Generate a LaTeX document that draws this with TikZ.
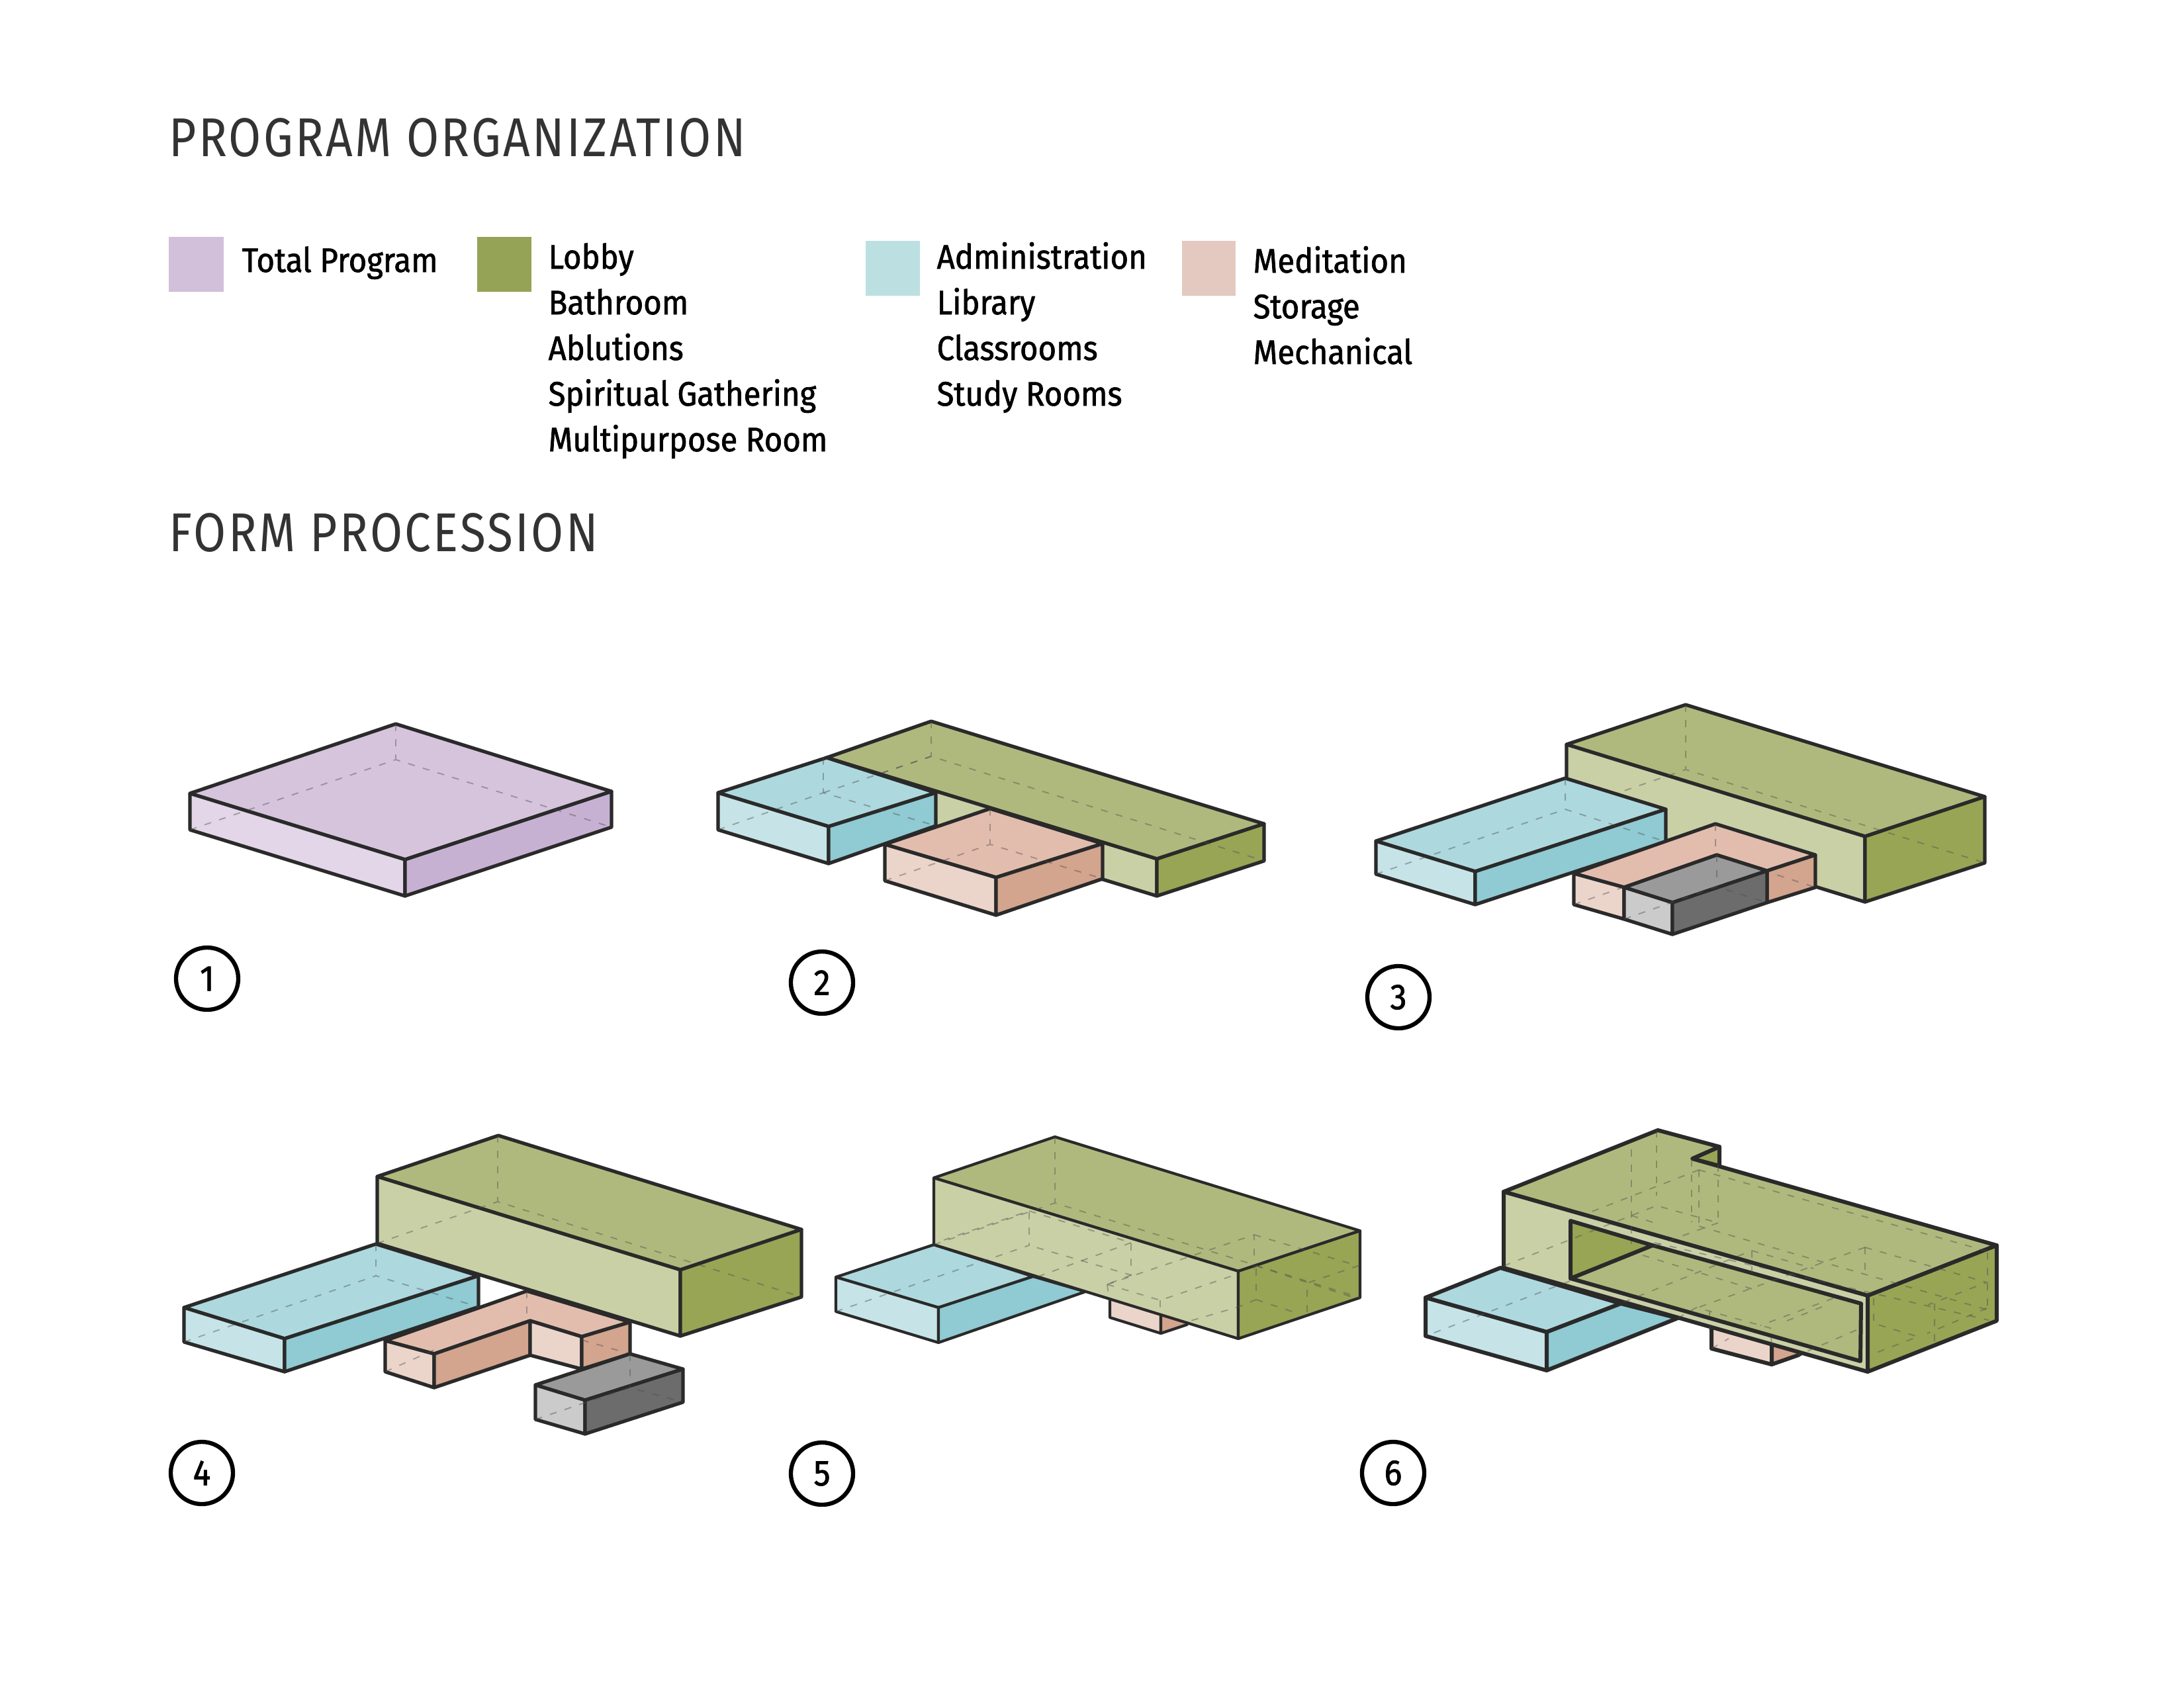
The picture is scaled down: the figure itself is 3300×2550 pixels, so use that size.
\documentclass[tikz,border=0pt]{standalone}
\usepackage{fontspec}
\usepackage{tikz}
\usetikzlibrary{positioning}
\newfontfamily\headfont[FakeStretch=0.86,LetterSpace=4]{Fira Sans}
\newfontfamily\lgdfont[FakeStretch=0.92,FakeBold=1.4]{Fira Sans}
\definecolor{lin}{HTML}{2A2A2A}
\definecolor{headcol}{HTML}{333333}
\definecolor{purT}{HTML}{D6C4DD}
\definecolor{purL}{HTML}{E3D6E8}
\definecolor{purR}{HTML}{C7B1D3}
\definecolor{grnT}{HTML}{B0B97D}
\definecolor{grnL}{HTML}{C9D0A6}
\definecolor{grnR}{HTML}{98A555}
\definecolor{bluT}{HTML}{ADD8DE}
\definecolor{bluL}{HTML}{C6E4E7}
\definecolor{bluR}{HTML}{90CAD2}
\definecolor{pchT}{HTML}{E2BDAD}
\definecolor{pchL}{HTML}{EBD5CB}
\definecolor{pchR}{HTML}{D3A48E}
\definecolor{gryT}{HTML}{9A9A9A}
\definecolor{gryL}{HTML}{CBCBCB}
\definecolor{gryR}{HTML}{6C6C6C}
\definecolor{keypur}{HTML}{D2BFD9}
\definecolor{keygrn}{HTML}{95A356}
\definecolor{keyblu}{HTML}{BCE0E1}
\definecolor{keypch}{HTML}{E3C9C0}
\begin{document}
\begin{tikzpicture}[
    x=0.01cm, y=-0.01cm, line width=1.5pt,
    face/.style={draw=lin, line join=round},
    toppur/.style={face, fill=purT},
    lftpur/.style={face, fill=purL},
    rgtpur/.style={face, fill=purR},
    topgrn/.style={face, fill=grnT},
    lftgrn/.style={face, fill=grnL},
    rgtgrn/.style={face, fill=grnR},
    topblu/.style={face, fill=bluT},
    lftblu/.style={face, fill=bluL},
    rgtblu/.style={face, fill=bluR},
    toppch/.style={face, fill=pchT},
    lftpch/.style={face, fill=pchL},
    rgtpch/.style={face, fill=pchR},
    topgry/.style={face, fill=gryT},
    lftgry/.style={face, fill=gryL},
    rgtgry/.style={face, fill=gryR},
    hid/.style={draw=black!70, opacity=0.42, line width=0.55pt, dash pattern=on 3pt off 3.6pt},
    head/.style={anchor=base west, inner sep=0pt, text=headcol, font=\headfont\fontsize{23.5}{28}\selectfont},
    lgd/.style={anchor=base west, inner sep=0pt, text=black, font=\lgdfont\fontsize{14.6}{17}\selectfont},
    num/.style={circle, draw=black, line width=1.8pt, minimum size=0.94cm, inner sep=0pt, font=\lgdfont\fontsize{15.5}{18}\selectfont}
]
\useasboundingbox (0,0) rectangle (3300,2550);

% titles
\node[head] (title1) at (253,236) {PROGRAM ORGANIZATION};
\node[head] (title2) at (253,833) {FORM PROCESSION};

% legend
\fill[keypur] (255,358) rectangle (338,441);
\fill[keygrn] (721,358) rectangle (803,441);
\fill[keyblu] (1308,364) rectangle (1390,447);
\fill[keypch] (1786,364) rectangle (1867,447);
\node[lgd] (total) at (363,411) {Total Program};
\foreach \txt [count=\i] in {Lobby,Bathroom,Ablutions,Spiritual Gathering,Multipurpose Room}
    \node[lgd] (grn\i) at (826,337+69*\i) {\txt};
\foreach \txt [count=\i] in {Administration,Library,Classrooms,Study Rooms}
    \node[lgd] (blu\i) at (1413,337+69*\i) {\txt};
\foreach \txt [count=\i] in {Meditation,Storage,Mechanical}
    \node[lgd] (pch\i) at (1891,343+69*\i) {\txt};

% 1
\filldraw[toppur] (598,1094) -- (924,1196) -- (612,1299) -- (287,1199) -- cycle;
\filldraw[lftpur] (287,1199) -- (612,1299) -- (612,1354) -- (287,1254) -- cycle;
\filldraw[rgtpur] (612,1299) -- (924,1196) -- (924,1250) -- (612,1354) -- cycle;
\draw[hid] (598,1094) -- (598,1148) (287,1254) -- (598,1148) -- (924,1250);
\node[num] (n1) at (313,1479) {1};

% 2
\filldraw[topgrn] (1249,1145) -- (1407,1090) -- (1910,1245) -- (1748,1298) -- cycle;
\filldraw[lftgrn] (1249,1145) -- (1748,1298) -- (1748,1354) -- (1249,1201) -- cycle;
\filldraw[rgtgrn] (1748,1298) -- (1910,1245) -- (1910,1301) -- (1748,1354) -- cycle;
\draw[hid] (1407,1090) -- (1407,1143) (1244,1198) -- (1407,1143) -- (1910,1301);
\filldraw[topblu] (1085,1198) -- (1249,1145) -- (1414,1198) -- (1252,1249) -- cycle;
\filldraw[lftblu] (1085,1198) -- (1252,1249) -- (1252,1305) -- (1085,1254) -- cycle;
\filldraw[rgtblu] (1252,1249) -- (1414,1198) -- (1414,1248) -- (1252,1305) -- cycle;
\draw[hid] (1244,1145) -- (1244,1198) (1085,1254) -- (1244,1198) -- (1414,1248);
\draw[hid] (1244,1198) -- (1407,1143);
\filldraw[toppch] (1337,1276) -- (1496,1222) -- (1666,1275) -- (1505,1326) -- cycle;
\filldraw[lftpch] (1337,1276) -- (1505,1326) -- (1505,1383) -- (1337,1331) -- cycle;
\filldraw[rgtpch] (1505,1326) -- (1666,1275) -- (1666,1328) -- (1505,1383) -- cycle;
\draw[hid] (1496,1222) -- (1496,1276) (1337,1331) -- (1496,1276) -- (1666,1328);
\node[num] (n2) at (1242,1485) {2};

% 3
\filldraw[topgrn] (2367,1125) -- (2547,1065) -- (2999,1204) -- (2818,1264) -- cycle;
\filldraw[lftgrn] (2367,1125) -- (2818,1264) -- (2818,1363) -- (2367,1224) -- cycle;
\filldraw[rgtgrn] (2818,1264) -- (2999,1204) -- (2999,1304) -- (2818,1363) -- cycle;
\draw[hid] (2547,1065) -- (2547,1163) (2367,1225) -- (2547,1163) -- (2999,1304);
\filldraw[topblu] (2079,1271) -- (2365,1176) -- (2517,1223) -- (2229,1317) -- cycle;
\filldraw[lftblu] (2079,1271) -- (2229,1317) -- (2229,1367) -- (2079,1321) -- cycle;
\filldraw[rgtblu] (2229,1317) -- (2517,1223) -- (2517,1272) -- (2229,1367) -- cycle;
\draw[hid] (2365,1176) -- (2365,1223) (2079,1321) -- (2365,1223) -- (2517,1272);
\filldraw[toppch] (2378,1320) -- (2592,1245) -- (2743,1292) -- (2670,1316) -- (2594,1292) -- (2454,1341) -- cycle;
\filldraw[lftpch] (2378,1320) -- (2454,1341) -- (2454,1389) -- (2378,1367) -- cycle;
\filldraw[rgtpch] (2670,1316) -- (2743,1292) -- (2743,1341) -- (2670,1364) -- cycle;
\draw[hid] (2592,1245) -- (2592,1292) (2378,1367) -- (2592,1292) -- (2743,1341);
\filldraw[topgry] (2454,1341) -- (2594,1292) -- (2670,1316) -- (2527,1364) -- cycle;
\filldraw[lftgry] (2454,1341) -- (2527,1364) -- (2527,1412) -- (2454,1389) -- cycle;
\filldraw[rgtgry] (2527,1364) -- (2670,1316) -- (2670,1364) -- (2527,1412) -- cycle;
\draw[hid] (2594,1292) -- (2594,1340) (2454,1389) -- (2594,1340) -- (2670,1364);
\node[num] (n3) at (2113,1507) {3};

% 4
\filldraw[toppch] (582,2026) -- (796,1951) -- (952,1998) -- (879,2020) -- (801,1996) -- (656,2046) -- cycle;
\filldraw[lftpch] (582,2026) -- (656,2046) -- (656,2097) -- (582,2073) -- cycle;
\filldraw[rgtpch] (656,2046) -- (801,1996) -- (801,2048) -- (656,2097) -- cycle;
\filldraw[lftpch] (801,1996) -- (879,2020) -- (879,2069) -- (801,2048) -- cycle;
\filldraw[rgtpch] (879,2020) -- (952,1998) -- (952,2046) -- (879,2069) -- cycle;
\draw[hid] (796,1951) -- (796,1996) (582,2073) -- (656,2040) (879,2025) -- (952,2046);
\filldraw[topgrn] (570,1778) -- (753,1716) -- (1211,1858) -- (1028,1919) -- cycle;
\filldraw[lftgrn] (570,1778) -- (1028,1919) -- (1028,2019) -- (570,1879) -- cycle;
\filldraw[rgtgrn] (1028,1919) -- (1211,1858) -- (1211,1960) -- (1028,2019) -- cycle;
\draw[hid] (752,1716) -- (752,1816) (570,1879) -- (752,1816) -- (1211,1960);
\filldraw[topblu] (278,1976) -- (568,1880) -- (723,1928) -- (430,2023) -- cycle;
\filldraw[lftblu] (278,1976) -- (430,2023) -- (430,2073) -- (278,2028) -- cycle;
\filldraw[rgtblu] (430,2023) -- (723,1928) -- (723,1975) -- (430,2073) -- cycle;
\draw[hid] (568,1880) -- (568,1928) (278,2028) -- (568,1928) -- (723,1975);
\filldraw[topgry] (809,2093) -- (952,2046) -- (1032,2069) -- (884,2116) -- cycle;
\filldraw[lftgry] (809,2093) -- (884,2116) -- (884,2167) -- (809,2145) -- cycle;
\filldraw[rgtgry] (884,2116) -- (1032,2069) -- (1032,2119) -- (884,2167) -- cycle;
\draw[hid] (952,2046) -- (952,2097) (809,2145) -- (952,2097) -- (1032,2119);
\node[num] (n4) at (305,2226) {4};

% 5
\begin{scope}[line width=1.2pt]
\filldraw[lftpch] (1677,1960) -- (1754,1985) -- (1754,2015) -- (1677,1991) -- cycle;
\filldraw[rgtpch] (1754,1985) -- (1800,1995) -- (1793,2002) -- (1754,2015) -- cycle;
\filldraw[topblu] (1263,1930) -- (1411,1881) -- (1561,1929) -- (1418,1976) -- cycle;
\filldraw[lftblu] (1263,1930) -- (1418,1976) -- (1418,2029) -- (1263,1982) -- cycle;
\filldraw[rgtblu] (1418,1976) -- (1561,1929) -- (1640,1952) -- (1418,2029) -- cycle;
\filldraw[topgrn] (1411,1780) -- (1594,1718) -- (2055,1860) -- (1871,1921) -- cycle;
\filldraw[lftgrn] (1411,1780) -- (1871,1921) -- (1871,2023) -- (1411,1881) -- cycle;
\filldraw[rgtgrn] (1871,1921) -- (2055,1860) -- (2055,1961) -- (1871,2023) -- cycle;
\draw[hid] (1594,1718) -- (1594,1818) (1411,1881) -- (1594,1818) -- (2055,1961);
\draw[hid] (1263,1982) -- (1555,1882) -- (1555,1830) -- (1426,1874);
\draw[hid] (1555,1830) -- (1709,1878) -- (1709,1927) -- (1555,1882);
\draw[hid] (1709,1878) -- (1569,1929) (1709,1927) -- (1673,1941);
\draw[hid] (1673,1941) -- (1895,1866) -- (1895,1917) (1895,1866) -- (2052,1913) -- (1975,1939) -- (1975,1984);
\draw[hid] (1898,1913) -- (2052,1963) (1898,1964) -- (1958,1984) (1898,1917) -- (1898,1964) -- (1871,1975) -- (1799,1996);
\draw[hid] (1673,1941) -- (1753,1965) -- (1871,1925) (1753,1965) -- (1753,1988) (1673,1941) -- (1676,1967);
\end{scope}
\node[num] (n5) at (1242,2227) {5};

% 6
\begin{scope}[line width=1.7pt]
\filldraw[lftpch] (2586,2000) -- (2677,2030) -- (2677,2062) -- (2586,2038) -- cycle;
\filldraw[rgtpch] (2677,2030) -- (2730,2040) -- (2717,2048) -- (2677,2062) -- cycle;
\filldraw[topblu] (2154,1961) -- (2267,1916) -- (2449,1970) -- (2337,2013) -- cycle;
\filldraw[lftblu] (2154,1961) -- (2337,2013) -- (2337,2071) -- (2154,2019) -- cycle;
\filldraw[rgtblu] (2337,2013) -- (2449,1970) -- (2535,1992) -- (2337,2071) -- cycle;
\filldraw[rgtgrn] (2598,1733) -- (2557,1751) -- (2598,1762) -- cycle;
\filldraw[topgrn] (2272,1801) -- (2505,1708) -- (2598,1733) -- (2557,1751) -- (3017,1882) -- (2822,1958) -- cycle;
\filldraw[lftgrn] (2272,1801) -- (2822,1958) -- (2822,2073) -- (2272,1916) -- cycle;
\filldraw[rgtgrn] (2822,1958) -- (3017,1882) -- (3017,1996) -- (2822,2073) -- cycle;
\filldraw[topgrn] (2373,1932) -- (2497,1882) -- (2812,1970) -- (2811,2057) -- cycle;
\filldraw[rgtgrn] (2373,1845) -- (2497,1882) -- (2373,1932) -- cycle;
\draw[hid] (2465,1737) -- (2465,1880) (2503,1708) -- (2503,1807) (2556,1752) -- (2556,1847);
\draw[hid] (2567,1768) -- (2567,1853) (2596,1760) -- (2596,1848) (2567,1768) -- (2395,1835);
\draw[hid] (2567,1768) -- (3010,1893) (2272,1913) -- (2503,1822) -- (2596,1848);
\draw[hid] (2596,1848) -- (2497,1884) (2372,1936) -- (2154,2019);
\draw[hid] (2465,1837) -- (2500,1848) (2500,1878) -- (3005,1995);
\draw[hid] (2567,1853) -- (3005,1980);
\draw[hid] (2453,1968) -- (2647,1890) -- (2740,1917) (2647,1890) -- (2647,1933);
\draw[hid] (2482,1897) -- (2648,1948) (2818,1885) -- (2563,1977);
\draw[hid] (2770,1962) -- (2660,2003) (2753,1975) -- (2690,2000);
\draw[hid] (2535,1992) -- (2563,1976) -- (2675,2007) -- (2677,2033) (2583,1980) -- (2583,2010);
\draw[hid] (2586,2038) -- (2612,2023) (2805,2010) -- (2717,2048);
\draw[hid] (2818,1885) -- (3002,1938) -- (2913,1972) (2818,1885) -- (2818,1927) (3003,1893) -- (3003,1977);
\draw[hid] (2923,1970) -- (2923,2027) (3002,1977) -- (2912,2015);
\draw[hid] (2831,1962) -- (2831,2000) -- (2898,2020) -- (2833,2045);
\end{scope}
\node[num] (n6) at (2105,2226) {6};
\end{tikzpicture}
\end{document}
